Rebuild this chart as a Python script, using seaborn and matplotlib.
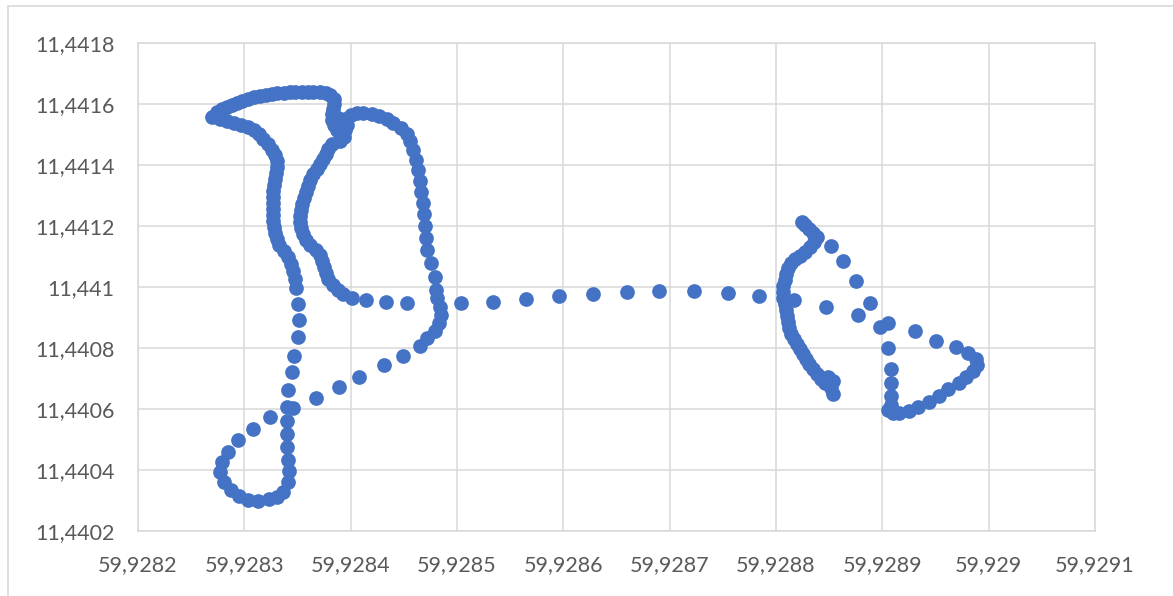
import matplotlib.pyplot as plt
import seaborn as sns
import pandas as pd
from matplotlib.lines import Line2D

# GPS track points (x = 59,92..., y = 11,44...)
lon = [
    # left strip + bottom loop
    59.928270, 59.928277, 59.928284, 59.928290, 59.928297, 59.928303, 59.928309, 59.928314,
    59.928318, 59.928322, 59.928326, 59.928329, 59.928331, 59.928331, 59.928330, 59.928329,
    59.928328, 59.928327, 59.928327, 59.928327, 59.928327, 59.928327, 59.928327, 59.928328,
    59.928329, 59.928331, 59.928333, 59.928337, 59.928341, 59.928344, 59.928346, 59.928348,
    59.928349, 59.928350, 59.928351, 59.928350, 59.928347, 59.928345, 59.928341, 59.928340,
    59.928346, 59.928340, 59.928340, 59.928340, 59.928341, 59.928342, 59.928341, 59.928336,
    59.928331, 59.928323, 59.928313, 59.928303, 59.928295, 59.928287, 59.928281, 59.928277,
    59.928279, 59.928285, 59.928294, 59.928308, 59.928324, 59.928367, 59.928389, 59.928408,
    59.928431, 59.928449, 59.928465, 59.928472, 59.928479, 59.928483, 59.928485, 59.928484,
    59.928481, 59.928480, 59.928479, 59.928476, 59.928472, 59.928471, 59.928470, 59.928469,
    59.928468, 59.928466, 59.928465, 59.928463, 59.928461, 59.928459, 59.928456, 59.928453,
    59.928447, 59.928440, 59.928434, 59.928427, 59.928420, 59.928412, 59.928406, 59.928400,
    59.928395, 59.928392, 59.928395, 59.928394, 59.928390, 59.928388, 59.928389, 59.928397,
    # top band
    59.928274, 59.928279, 59.928284, 59.928288, 59.928293, 59.928298, 59.928303, 59.928309,
    59.928315, 59.928320, 59.928326, 59.928331, 59.928337, 59.928343, 59.928348, 59.928354,
    59.928360, 59.928365, 59.928371, 59.928377, 59.928381, 59.928384, 59.928384, 59.928383,
    59.928382, 59.928382, 59.928384, 59.928387,
    # inner strip + long row
    59.928382, 59.928379, 59.928377, 59.928374, 59.928371, 59.928368, 59.928365, 59.928362,
    59.928360, 59.928358, 59.928356, 59.928354, 59.928353, 59.928352, 59.928352, 59.928353,
    59.928355, 59.928358, 59.928362, 59.928367, 59.928371, 59.928373, 59.928375, 59.928377,
    59.928379, 59.928383, 59.928388, 59.928393, 59.928401, 59.928414, 59.928433, 59.928453,
    59.928504, 59.928534, 59.928565, 59.928596, 59.928628, 59.928660, 59.928690, 59.928723,
    59.928755, 59.928784,
    # right band
    59.928854, 59.928852, 59.928854, 59.928849, 59.928846, 59.928842, 59.928839, 59.928835,
    59.928831, 59.928828, 59.928825, 59.928823, 59.928820, 59.928817, 59.928814, 59.928812,
    59.928811, 59.928810, 59.928809, 59.928808, 59.928807, 59.928807, 59.928807, 59.928808,
    59.928809, 59.928811, 59.928814, 59.928818, 59.928823, 59.928827, 59.928832, 59.928836,
    59.928839, 59.928835, 59.928831, 59.928827, 59.928824, 59.928817,
    # right dotted triangle
    59.928852, 59.928863, 59.928875, 59.928888, 59.928847, 59.928877, 59.928898, 59.928905,
    59.928931, 59.928950, 59.928969, 59.928981, 59.928988, 59.928989, 59.928985, 59.928979,
    59.928972, 59.928962, 59.928953, 59.928944, 59.928934, 59.928925, 59.928916, 59.928910,
    59.928905, 59.928908, 59.928908, 59.928908, 59.928908, 59.928905,
]
lat = [
    11.441557, 11.441551, 11.441544, 11.441538, 11.441531, 11.441525, 11.441515, 11.441502,
    11.441485, 11.441469, 11.441449, 11.441433, 11.441413, 11.441393, 11.441374, 11.441354,
    11.441334, 11.441315, 11.441295, 11.441275, 11.441256, 11.441236, 11.441216, 11.441197,
    11.441177, 11.441157, 11.441138, 11.441118, 11.441098, 11.441075, 11.441052, 11.441026,
    11.440997, 11.440944, 11.440892, 11.440836, 11.440774, 11.440721, 11.440662, 11.440606,
    11.440603, 11.440561, 11.440518, 11.440475, 11.440433, 11.440397, 11.440360, 11.440328,
    11.440311, 11.440305, 11.440298, 11.440301, 11.440315, 11.440334, 11.440360, 11.440393,
    11.440426, 11.440459, 11.440498, 11.440534, 11.440574, 11.440636, 11.440672, 11.440705,
    11.440744, 11.440774, 11.440806, 11.440833, 11.440856, 11.440882, 11.440908, 11.440934,
    11.440964, 11.440990, 11.441033, 11.441079, 11.441121, 11.441161, 11.441200, 11.441239,
    11.441275, 11.441311, 11.441347, 11.441384, 11.441416, 11.441449, 11.441479, 11.441502,
    11.441521, 11.441538, 11.441551, 11.441561, 11.441567, 11.441570, 11.441570, 11.441564,
    11.441551, 11.441534, 11.441515, 11.441492, 11.441479, 11.441554, 11.441508, 11.441531,
    11.441574, 11.441584, 11.441590, 11.441597, 11.441603, 11.441610, 11.441616, 11.441623,
    11.441626, 11.441630, 11.441633, 11.441636, 11.441636, 11.441639, 11.441639, 11.441639,
    11.441639, 11.441639, 11.441639, 11.441636, 11.441630, 11.441616, 11.441600, 11.441584,
    11.441567, 11.441547, 11.441531, 11.441515,
    11.441469, 11.441452, 11.441436, 11.441420, 11.441403, 11.441387, 11.441370, 11.441351,
    11.441331, 11.441311, 11.441292, 11.441272, 11.441252, 11.441233, 11.441213, 11.441193,
    11.441174, 11.441154, 11.441138, 11.441121, 11.441105, 11.441085, 11.441066, 11.441046,
    11.441026, 11.441007, 11.440990, 11.440977, 11.440964, 11.440957, 11.440951, 11.440947,
    11.440947, 11.440951, 11.440961, 11.440970, 11.440977, 11.440984, 11.440987, 11.440987,
    11.440980, 11.440970,
    11.440649, 11.440669, 11.440692, 11.440705, 11.440685, 11.440698, 11.440715, 11.440731,
    11.440747, 11.440764, 11.440780, 11.440797, 11.440813, 11.440829, 11.440846, 11.440865,
    11.440885, 11.440905, 11.440925, 11.440944, 11.440964, 11.440984, 11.441003, 11.441023,
    11.441043, 11.441062, 11.441079, 11.441092, 11.441102, 11.441115, 11.441131, 11.441148,
    11.441164, 11.441177, 11.441190, 11.441203, 11.441213, 11.440957,
    11.441134, 11.441085, 11.441020, 11.440947, 11.440934, 11.440908, 11.440869, 11.440882,
    11.440856, 11.440823, 11.440803, 11.440784, 11.440764, 11.440744, 11.440724, 11.440705,
    11.440685, 11.440666, 11.440642, 11.440623, 11.440606, 11.440593, 11.440587, 11.440587,
    11.440597, 11.440613, 11.440642, 11.440685, 11.440731, 11.440800,
]

x_ticks = [59.9282, 59.9283, 59.9284, 59.9285, 59.9286, 59.9287, 59.9288, 59.9289, 59.9290, 59.9291]
x_labels = ["59,9282", "59,9283", "59,9284", "59,9285", "59,9286",
            "59,9287", "59,9288", "59,9289", "59,929", "59,9291"]
y_ticks = [11.4402, 11.4404, 11.4406, 11.4408, 11.4410, 11.4412, 11.4414, 11.4416, 11.4418]
y_labels = ["11,4402", "11,4404", "11,4406", "11,4408", "11,441",
            "11,4412", "11,4414", "11,4416", "11,4418"]

df = pd.DataFrame({'lon': lon, 'lat': lat})

sns.set_style("white")
plt.rcParams['font.family'] = ['Lato', 'DejaVu Sans']

fig = plt.figure(figsize=(11.73, 5.96), dpi=100)
ax = fig.add_axes([138 / 1173, 1 - 531 / 596, (1095 - 138) / 1173, (531 - 43) / 596])

sns.scatterplot(data=df, x='lon', y='lat', ax=ax, color='#4472C4',
                s=112, linewidth=0, zorder=3)

ax.set_xlim(x_ticks[0], x_ticks[-1])
ax.set_ylim(y_ticks[0], y_ticks[-1])
ax.set_xticks(x_ticks, x_labels)
ax.set_yticks(y_ticks, y_labels)
ax.set_xlabel('')
ax.set_ylabel('')
ax.grid(True, color='#D9D9D9', linewidth=1.1, zorder=0)
ax.set_axisbelow(True)
for sp in ax.spines.values():
    sp.set_color('#D9D9D9')
    sp.set_linewidth(1.1)
ax.tick_params(axis='both', length=0, labelsize=15.5, colors='#595959', pad=17)

# chart area border (left / top)
fig.add_artist(Line2D([8 / 1173, 8 / 1173], [0, 1 - 6 / 596], color='#D9D9D9', lw=1.2))
fig.add_artist(Line2D([8 / 1173, 1], [1 - 6 / 596, 1 - 6 / 596], color='#D9D9D9', lw=1.2))

fig.savefig('out.png', dpi=100)
